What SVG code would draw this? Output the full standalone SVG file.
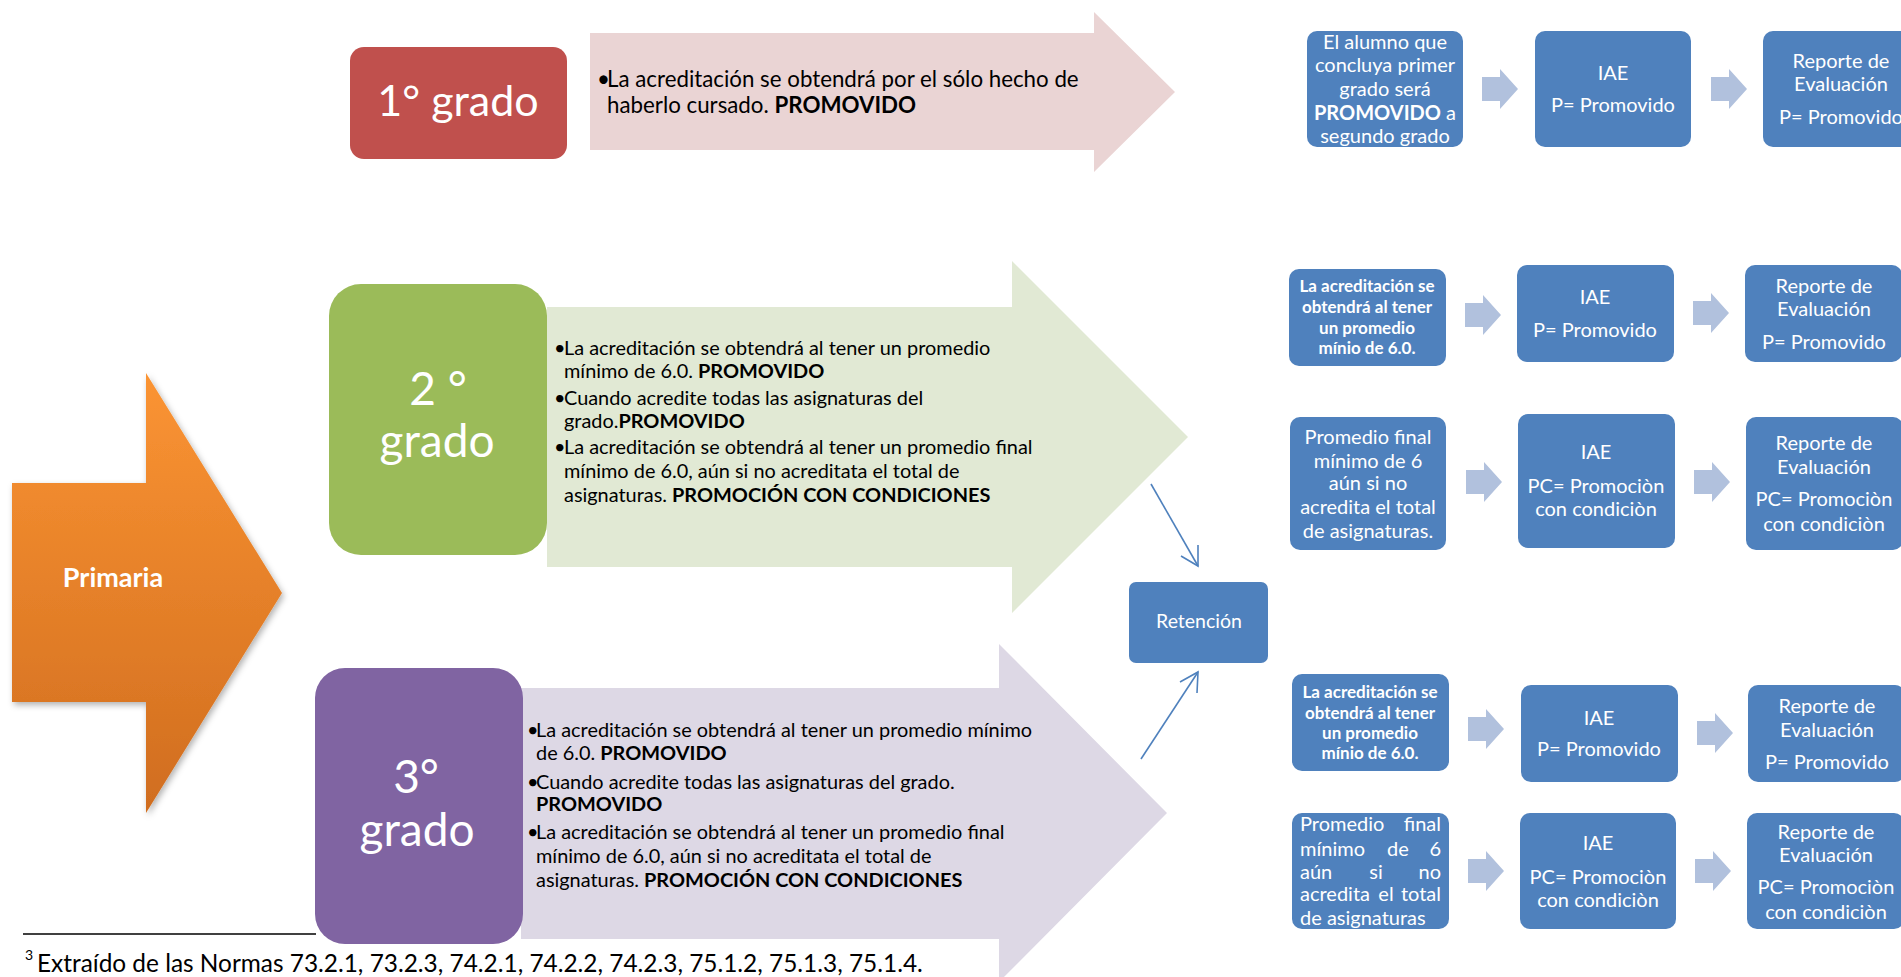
<svg xmlns="http://www.w3.org/2000/svg" width="1901" height="977" viewBox="0 0 1901 977">
<style>
text{font-family:Lato,"Liberation Sans",sans-serif}
.w{fill:#fff}
.k{fill:#000}
.b{font-weight:bold}
.m{text-anchor:middle}
.e{text-anchor:end}
.box{fill:#4F81BD}
.chev{fill:#B1C1DD}
.s20{font-size:20px}
.s17{font-size:17px}
.bl{font-size:19.9px}
.big{font-size:46px}
.conn{stroke:#4F81BD;stroke-width:1.6;fill:none}
</style>
<defs>
<linearGradient id="og" x1="0" y1="0" x2="0" y2="1">
<stop offset="0" stop-color="#FB9433"/>
<stop offset="1" stop-color="#D06D1F"/>
</linearGradient>
<filter id="sh" x="-10%" y="-10%" width="130%" height="130%">
<feDropShadow dx="2" dy="3" stdDeviation="3" flood-color="#000" flood-opacity="0.3"/>
</filter>
<path id="chevron" d="M0,-12 H18 V-20 L36,0 L18,20 V12 H0 Z"/>
</defs>
<rect width="1901" height="977" fill="#fff"/>

<!-- Primaria -->
<g id="primaria">
<path d="M12,483 H146 V373 L282,593 L146,813 V702 H12 Z" fill="url(#og)" filter="url(#sh)"/>
<text x="113" y="587" class="w b m" font-size="27">Primaria</text>
</g>

<!-- 1° grado -->
<g id="grado1-arrow">
<path d="M590,33 H1094 V12 L1175,92 L1094,172 V150 H590 Z" fill="#EAD4D4"/>
<text x="597" y="87" class="k" font-size="22.3">•</text>
<text x="607" y="87" class="k" font-size="22.3">La acreditación se obtendrá por el sólo hecho de</text>
<text x="607" y="113" class="k" font-size="22.3">haberlo cursado. <tspan class="b">PROMOVIDO</tspan></text>
</g>
<g id="grado1">
<rect x="350" y="47" width="217" height="112" rx="14" fill="#C0504D"/>
<text x="458" y="116" class="w m" font-size="43">1° grado</text>
</g>

<!-- 2° grado -->
<g id="grado2-arrow">
<path d="M547,307 H1012 V261 L1188,437 L1012,613 V567 H547 Z" fill="#E1E9D4"/>
<text x="554" y="355" class="k bl">•</text>
<text x="564" y="355" class="k bl">La acreditación se obtendrá al tener un promedio</text>
<text x="564" y="378" class="k bl">mínimo de 6.0. <tspan class="b">PROMOVIDO</tspan></text>
<text x="554" y="405" class="k bl">•</text>
<text x="564" y="405" class="k bl">Cuando acredite todas las asignaturas del</text>
<text x="564" y="428" class="k bl">grado.<tspan class="b">PROMOVIDO</tspan></text>
<text x="554" y="454" class="k bl">•</text>
<text x="564" y="454" class="k bl">La acreditación se obtendrá al tener un promedio final</text>
<text x="564" y="478" class="k bl">mínimo de 6.0, aún si no acreditata el total de</text>
<text x="564" y="502" class="k bl">asignaturas. <tspan class="b">PROMOCIÓN CON CONDICIONES</tspan></text>
</g>
<g id="grado2">
<rect x="329" y="284" width="218" height="271" rx="32" fill="#9BBB59"/>
<text x="438" y="405" class="w m big">2 °</text>
<text x="437" y="457" class="w m big">grado</text>
</g>

<!-- 3° grado -->
<g id="grado3-arrow">
<path d="M521,688 H999 V644 L1167,813 L999,982 V939 H521 Z" fill="#DDD8E5"/>
<text x="527" y="737" class="k bl">•</text>
<text x="536" y="737" class="k bl">La acreditación se obtendrá al tener un promedio mínimo</text>
<text x="536" y="760" class="k bl">de 6.0. <tspan class="b">PROMOVIDO</tspan></text>
<text x="527" y="789" class="k bl">•</text>
<text x="536" y="789" class="k bl">Cuando acredite todas las asignaturas del grado.</text>
<text x="536" y="811" class="k bl b">PROMOVIDO</text>
<text x="527" y="839" class="k bl">•</text>
<text x="536" y="839" class="k bl">La acreditación se obtendrá al tener un promedio final</text>
<text x="536" y="863" class="k bl">mínimo de 6.0, aún si no acreditata el total de</text>
<text x="536" y="887" class="k bl">asignaturas. <tspan class="b">PROMOCIÓN CON CONDICIONES</tspan></text>
</g>
<g id="grado3">
<rect x="315" y="668" width="208" height="276" rx="30" fill="#8064A2"/>
<text x="416" y="793" class="w m big">3°</text>
<text x="417" y="846" class="w m big">grado</text>
</g>

<!-- footnote -->
<g id="footnote">
<line x1="23" y1="934" x2="316" y2="934" stroke="#000" stroke-width="1.3"/>
<text x="25" y="960" class="k" font-size="14">3</text>
<text x="37" y="972" class="k" font-size="24.4">Extraído de las Normas 73.2.1, 73.2.3, 74.2.1, 74.2.2, 74.2.3, 75.1.2, 75.1.3, 75.1.4.</text>
</g>

<!-- Retención -->
<g id="retencion">
<rect x="1129" y="582" width="139" height="81" rx="7" class="box"/>
<text x="1199" y="628" class="w m" font-size="19.5">Retención</text>
</g>

<!-- connectors -->
<g id="connectors" class="conn">
<path d="M1151,484 L1198,566"/>
<path d="M1181,556 L1198,566 L1198,545"/>
<path d="M1141,759 L1198,672"/>
<path d="M1180,682 L1198,672 L1197,693"/>
</g>

<!-- chevrons between boxes -->
<g id="chevrons" class="chev">
<use href="#chevron" x="1482" y="89"/>
<use href="#chevron" x="1711" y="89"/>
<use href="#chevron" x="1465" y="315"/>
<use href="#chevron" x="1693" y="313"/>
<use href="#chevron" x="1466" y="482"/>
<use href="#chevron" x="1694" y="482"/>
<use href="#chevron" x="1468" y="729"/>
<use href="#chevron" x="1697" y="733"/>
<use href="#chevron" x="1468" y="871"/>
<use href="#chevron" x="1695" y="871"/>
</g>

<!-- Row 1 -->
<g id="r1a">
<rect x="1307" y="31" width="156" height="116" rx="10" class="box"/>
<text class="w m s20" x="1385" y="49">El alumno que</text>
<text class="w m s20" x="1385" y="72">concluya primer</text>
<text class="w m s20" x="1385" y="96">grado será</text>
<text class="w m s20" x="1385" y="120"><tspan class="b">PROMOVIDO</tspan> a</text>
<text class="w m s20" x="1385" y="143">segundo grado</text>
</g>
<g id="r1b">
<rect x="1535" y="31" width="156" height="116" rx="10" class="box"/>
<text class="w m s20" x="1613" y="80">IAE</text>
<text class="w m s20" x="1613" y="112">P= Promovido</text>
</g>
<g id="r1c">
<rect x="1763" y="31" width="156" height="116" rx="10" class="box"/>
<text class="w m s20" x="1841" y="68">Reporte de</text>
<text class="w m s20" x="1841" y="91">Evaluación</text>
<text class="w m s20" x="1841" y="124">P= Promovido</text>
</g>

<!-- Row 2 -->
<g id="r2a">
<rect x="1289" y="269" width="157" height="97" rx="10" class="box"/>
<text class="w m s17 b" x="1367" y="292">La acreditación se</text>
<text class="w m s17 b" x="1367" y="313">obtendrá al tener</text>
<text class="w m s17 b" x="1367" y="334">un promedio</text>
<text class="w m s17 b" x="1367" y="354">mínio de 6.0.</text>
</g>
<g id="r2b">
<rect x="1517" y="265" width="157" height="97" rx="10" class="box"/>
<text class="w m s20" x="1595" y="304">IAE</text>
<text class="w m s20" x="1595" y="337">P= Promovido</text>
</g>
<g id="r2c">
<rect x="1745" y="265" width="157" height="97" rx="10" class="box"/>
<text class="w m s20" x="1824" y="293">Reporte de</text>
<text class="w m s20" x="1824" y="316">Evaluación</text>
<text class="w m s20" x="1824" y="349">P= Promovido</text>
</g>

<!-- Row 3 -->
<g id="r3a">
<rect x="1290" y="417" width="156" height="133" rx="10" class="box"/>
<text class="w m s20" x="1368" y="444">Promedio final</text>
<text class="w m s20" x="1368" y="468">mínimo de 6</text>
<text class="w m s20" x="1368" y="490">aún si no</text>
<text class="w m s20" x="1368" y="514">acredita el total</text>
<text class="w m s20" x="1368" y="538">de asignaturas.</text>
</g>
<g id="r3b">
<rect x="1518" y="414" width="157" height="134" rx="10" class="box"/>
<text class="w m s20" x="1596" y="459">IAE</text>
<text class="w m s20" x="1596" y="493">PC= Promociòn</text>
<text class="w m s20" x="1596" y="516">con condiciòn</text>
</g>
<g id="r3c">
<rect x="1746" y="417" width="157" height="133" rx="10" class="box"/>
<text class="w m s20" x="1824" y="450">Reporte de</text>
<text class="w m s20" x="1824" y="474">Evaluación</text>
<text class="w m s20" x="1824" y="506">PC= Promociòn</text>
<text class="w m s20" x="1824" y="531">con condiciòn</text>
</g>

<!-- Row 4 -->
<g id="r4a">
<rect x="1292" y="674" width="157" height="97" rx="10" class="box"/>
<text class="w m s17 b" x="1370" y="698">La acreditación se</text>
<text class="w m s17 b" x="1370" y="719">obtendrá al tener</text>
<text class="w m s17 b" x="1370" y="739">un promedio</text>
<text class="w m s17 b" x="1370" y="759">mínio de 6.0.</text>
</g>
<g id="r4b">
<rect x="1521" y="685" width="157" height="97" rx="10" class="box"/>
<text class="w m s20" x="1599" y="725">IAE</text>
<text class="w m s20" x="1599" y="756">P= Promovido</text>
</g>
<g id="r4c">
<rect x="1748" y="685" width="157" height="97" rx="10" class="box"/>
<text class="w m s20" x="1827" y="713">Reporte de</text>
<text class="w m s20" x="1827" y="737">Evaluación</text>
<text class="w m s20" x="1827" y="769">P= Promovido</text>
</g>

<!-- Row 5 -->
<g id="r5a">
<rect x="1292" y="813" width="157" height="116" rx="10" class="box"/>
<text class="w s20" x="1300" y="831">Promedio</text>
<text class="w s20 e" x="1441" y="831">final</text>
<text class="w s20" x="1300" y="856">mínimo</text>
<text class="w s20 m" x="1398" y="856">de</text>
<text class="w s20 e" x="1441" y="856">6</text>
<text class="w s20" x="1300" y="879">aún</text>
<text class="w s20 m" x="1376" y="879">si</text>
<text class="w s20 e" x="1441" y="879">no</text>
<text class="w s20" x="1300" y="901">acredita</text>
<text class="w s20 m" x="1386" y="901">el</text>
<text class="w s20 e" x="1441" y="901">total</text>
<text class="w s20" x="1300" y="925">de asignaturas</text>
</g>
<g id="r5b">
<rect x="1520" y="813" width="156" height="116" rx="10" class="box"/>
<text class="w m s20" x="1598" y="850">IAE</text>
<text class="w m s20" x="1598" y="884">PC= Promociòn</text>
<text class="w m s20" x="1598" y="907">con condiciòn</text>
</g>
<g id="r5c">
<rect x="1747" y="813" width="157" height="116" rx="10" class="box"/>
<text class="w m s20" x="1826" y="839">Reporte de</text>
<text class="w m s20" x="1826" y="862">Evaluación</text>
<text class="w m s20" x="1826" y="894">PC= Promociòn</text>
<text class="w m s20" x="1826" y="919">con condiciòn</text>
</g>
</svg>
